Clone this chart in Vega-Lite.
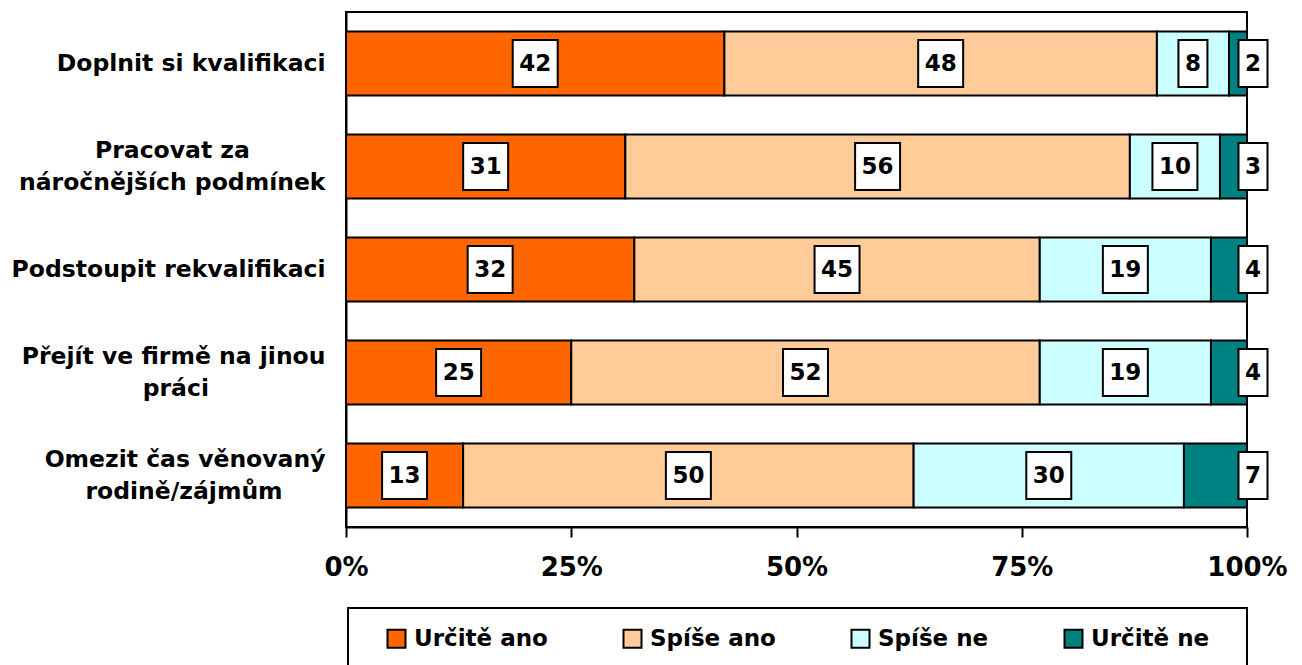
{
  "$schema": "https://vega.github.io/schema/vega-lite/v6.json",
  "width": 901,
  "height": 515,
  "autosize": {"type": "none"},
  "padding": {"left": 346, "top": 12, "right": 55, "bottom": 138},
  "background": "white",
  "config": {"view": {"stroke": "black", "strokeWidth": 2}, "font": "DejaVu Sans"},
  "data": {
    "values": [
      {"task": "Doplnit si kvalifikaci", "answer": "Určitě ano", "order": 1, "value": 42},
      {"task": "Doplnit si kvalifikaci", "answer": "Spíše ano", "order": 2, "value": 48},
      {"task": "Doplnit si kvalifikaci", "answer": "Spíše ne", "order": 3, "value": 8},
      {"task": "Doplnit si kvalifikaci", "answer": "Určitě ne", "order": 4, "value": 2},
      {"task": "Pracovat za náročnějších podmínek", "answer": "Určitě ano", "order": 1, "value": 31},
      {"task": "Pracovat za náročnějších podmínek", "answer": "Spíše ano", "order": 2, "value": 56},
      {"task": "Pracovat za náročnějších podmínek", "answer": "Spíše ne", "order": 3, "value": 10},
      {"task": "Pracovat za náročnějších podmínek", "answer": "Určitě ne", "order": 4, "value": 3},
      {"task": "Podstoupit rekvalifikaci", "answer": "Určitě ano", "order": 1, "value": 32},
      {"task": "Podstoupit rekvalifikaci", "answer": "Spíše ano", "order": 2, "value": 45},
      {"task": "Podstoupit rekvalifikaci", "answer": "Spíše ne", "order": 3, "value": 19},
      {"task": "Podstoupit rekvalifikaci", "answer": "Určitě ne", "order": 4, "value": 4},
      {"task": "Přejít ve firmě na jinou práci", "answer": "Určitě ano", "order": 1, "value": 25},
      {"task": "Přejít ve firmě na jinou práci", "answer": "Spíše ano", "order": 2, "value": 52},
      {"task": "Přejít ve firmě na jinou práci", "answer": "Spíše ne", "order": 3, "value": 19},
      {"task": "Přejít ve firmě na jinou práci", "answer": "Určitě ne", "order": 4, "value": 4},
      {"task": "Omezit čas věnovaný rodině/zájmům", "answer": "Určitě ano", "order": 1, "value": 13},
      {"task": "Omezit čas věnovaný rodině/zájmům", "answer": "Spíše ano", "order": 2, "value": 50},
      {"task": "Omezit čas věnovaný rodině/zájmům", "answer": "Spíše ne", "order": 3, "value": 30},
      {"task": "Omezit čas věnovaný rodině/zájmům", "answer": "Určitě ne", "order": 4, "value": 7}
    ]
  },
  "transform": [
    {"stack": "value", "groupby": ["task"], "sort": [{"field": "order", "order": "ascending"}], "as": ["x0", "x1"]},
    {"calculate": "(datum.x0 + datum.x1) / 2", "as": "mid"}
  ],
  "encoding": {
    "y": {
      "field": "task",
      "type": "nominal",
      "sort": ["Doplnit si kvalifikaci", "Pracovat za náročnějších podmínek", "Podstoupit rekvalifikaci", "Přejít ve firmě na jinou práci", "Omezit čas věnovaný rodině/zájmům"],
      "scale": {"paddingInner": 0.38, "paddingOuter": 0.19},
      "axis": {
        "title": null,
        "ticks": false,
        "domainColor": "black",
        "domainWidth": 2,
        "labelFont": "DejaVu Sans",
        "labelFontSize": 23.5,
        "labelFontWeight": "bold",
        "labelColor": "black",
        "labelPadding": 21,
        "labelLimit": 0,
        "labelLineHeight": 32,
        "labelOffset": {"condition": {"test": "datum.value == 'Pracovat za náročnějších podmínek' || datum.value == 'Přejít ve firmě na jinou práci' || datum.value == 'Omezit čas věnovaný rodině/zájmům'", "value": -16}, "value": 0},
        "labelExpr": "datum.label == 'Pracovat za náročnějších podmínek' ? ['Pracovat za\u00a0\u00a0\u00a0\u00a0\u00a0\u00a0\u00a0\u2800', 'náročnějších podmínek'] : datum.label == 'Přejít ve firmě na jinou práci' ? ['Přejít ve firmě na jinou', 'práci\u00a0\u00a0\u00a0\u00a0\u00a0\u00a0\u00a0\u00a0\u00a0\u00a0\u00a0\u00a0\u2800'] : datum.label == 'Omezit čas věnovaný rodině/zájmům' ? ['Omezit čas věnovaný', 'rodině/zájmům\u00a0\u00a0\u00a0\u2800'] : datum.label"
      }
    }
  },
  "layer": [
    {
      "mark": {"type": "bar", "stroke": "black", "strokeWidth": 2},
      "encoding": {
        "x": {
          "field": "x0",
          "type": "quantitative",
          "scale": {"domain": [0, 100], "nice": false},
          "axis": {
            "title": null,
            "values": [0, 25, 50, 75, 100],
            "labelExpr": "datum.value + '%'",
            "grid": false,
            "tickSize": 10,
            "tickWidth": 2,
            "tickColor": "black",
            "domainColor": "black",
            "domainWidth": 2,
            "labelFont": "DejaVu Sans",
            "labelFontSize": 26,
            "labelFontWeight": "bold",
            "labelColor": "black",
            "labelPadding": 17,
            "labelFlush": false,
            "labelOverlap": false
          }
        },
        "x2": {"field": "x1"},
        "color": {
          "field": "answer",
          "type": "nominal",
          "scale": {
            "domain": ["Určitě ano", "Spíše ano", "Spíše ne", "Určitě ne"],
            "range": ["#FF6600", "#FFCC99", "#CCFFFF", "#008080"]
          },
          "legend": {
            "orient": "none",
            "legendX": 2,
            "legendY": 596,
            "direction": "horizontal",
            "title": "\u2800",
            "titleOrient": "left",
            "titleFontSize": 23,
            "titlePadding": 0,
            "padding": 19,
            "strokeColor": "black",
            "fillColor": "white",
            "symbolType": "square",
            "symbolSize": 324,
            "symbolStrokeColor": "black",
            "symbolStrokeWidth": 2,
            "symbolOpacity": 1,
            "labelFont": "DejaVu Sans",
            "labelFontSize": 23,
            "labelFontWeight": "bold",
            "labelColor": "black",
            "labelOffset": 6,
            "labelLimit": 0,
            "columnPadding": 71,
            "labelExpr": "datum.label == 'Určitě ne' ? datum.label + '\u2800' : datum.label",
            "encode": {"legend": {"update": {"strokeWidth": {"value": 2}}}}
          }
        }
      }
    },
    {
      "transform": [{"filter": "datum.answer != 'Určitě ne'"}],
      "mark": {"type": "point", "filled": true, "fill": "white", "stroke": "black", "strokeWidth": 2, "size": 2209, "opacity": 1},
      "encoding": {
        "x": {"field": "mid", "type": "quantitative"},
        "shape": {"condition": {"test": "datum.value >= 10", "value": "M-0.957,-1H0.957V1H-0.957Z"}, "value": "M-0.617,-1H0.617V1H-0.617Z"}
      }
    },
    {
      "transform": [{"filter": "datum.answer != 'Určitě ne'"}],
      "mark": {"type": "text", "font": "DejaVu Sans", "fontSize": 23, "fontWeight": "bold", "color": "black", "baseline": "middle", "align": "center"},
      "encoding": {
        "x": {"field": "mid", "type": "quantitative"},
        "text": {"field": "value", "type": "quantitative"}
      }
    },
    {
      "transform": [{"filter": "datum.answer == 'Určitě ne'"}],
      "mark": {"type": "point", "filled": true, "fill": "white", "stroke": "black", "strokeWidth": 2, "size": 2209, "opacity": 1, "xOffset": 6},
      "encoding": {
        "x": {"field": "x1", "type": "quantitative"},
        "shape": {"value": "M-0.617,-1H0.617V1H-0.617Z"}
      }
    },
    {
      "transform": [{"filter": "datum.answer == 'Určitě ne'"}],
      "mark": {"type": "text", "font": "DejaVu Sans", "fontSize": 23, "fontWeight": "bold", "color": "black", "baseline": "middle", "align": "center", "xOffset": 6},
      "encoding": {
        "x": {"field": "x1", "type": "quantitative"},
        "text": {"field": "value", "type": "quantitative"}
      }
    }
  ]
}
